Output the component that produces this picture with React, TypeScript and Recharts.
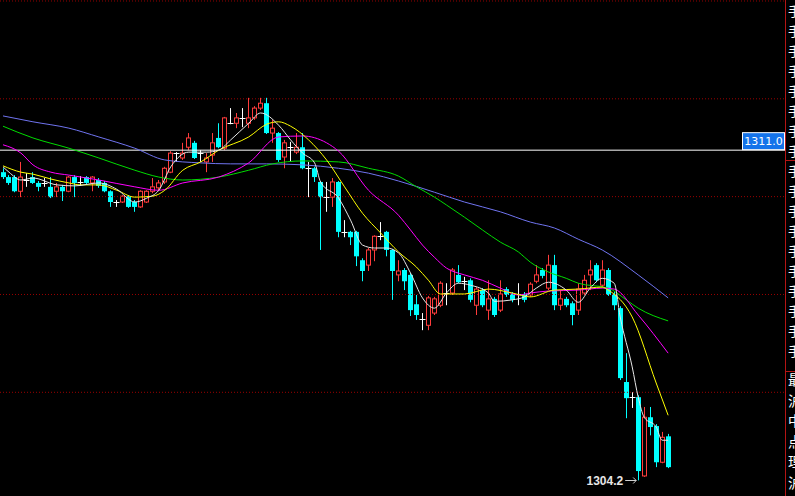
import React from "react";
import { Bar, ComposedChart, Line, ReferenceDot, ReferenceLine, XAxis, YAxis } from "recharts";

// [open, high, low, close], one per bar (oldest first)
const candles: [number, number, number, number][] = [
  [1310.5, 1310.58, 1310.36, 1310.4],
  [1310.4, 1310.44, 1310.24, 1310.28],
  [1310.4, 1310.44, 1310.09, 1310.11],
  [1310.11, 1310.71, 1309.99, 1310.4],
  [1310.34, 1310.48, 1310.2, 1310.34],
  [1310.4, 1310.5, 1310.26, 1310.28],
  [1310.28, 1310.32, 1310.11, 1310.2],
  [1310.28, 1310.38, 1310.2, 1310.28],
  [1310.2, 1310.4, 1309.97, 1309.99],
  [1310.11, 1310.28, 1309.99, 1310.2],
  [1310.2, 1310.24, 1309.91, 1310.11],
  [1310.11, 1310.42, 1310.09, 1310.4],
  [1310.4, 1310.44, 1309.99, 1310.28],
  [1310.3, 1310.42, 1310.22, 1310.3],
  [1310.4, 1310.42, 1310.24, 1310.28],
  [1310.28, 1310.42, 1310.11, 1310.4],
  [1310.34, 1310.38, 1310.18, 1310.22],
  [1310.28, 1310.32, 1310.09, 1310.11],
  [1310.11, 1310.13, 1309.79, 1309.89],
  [1309.89, 1309.93, 1309.79, 1309.89],
  [1309.89, 1310.03, 1309.87, 1310.01],
  [1310.01, 1310.03, 1309.77, 1309.79],
  [1309.89, 1309.93, 1309.69, 1309.79],
  [1309.79, 1310.13, 1309.77, 1310.11],
  [1309.89, 1310.13, 1309.87, 1310.11],
  [1310.11, 1310.38, 1310.07, 1310.2],
  [1310.18, 1310.34, 1310.13, 1310.28],
  [1310.3, 1310.61, 1310.26, 1310.58],
  [1310.5, 1310.93, 1310.48, 1310.89],
  [1310.89, 1310.91, 1310.71, 1310.89],
  [1310.79, 1311.1, 1310.75, 1310.89],
  [1311.01, 1311.3, 1310.95, 1311.2],
  [1311.1, 1311.14, 1310.77, 1310.79],
  [1310.89, 1310.95, 1310.71, 1310.89],
  [1310.71, 1310.89, 1310.5, 1310.79],
  [1310.85, 1311.3, 1310.71, 1311.1],
  [1311.2, 1311.5, 1310.99, 1311.01],
  [1310.99, 1311.63, 1310.95, 1311.61],
  [1311.5, 1311.81, 1311.48, 1311.5],
  [1311.5, 1311.71, 1311.4, 1311.61],
  [1311.61, 1311.81, 1311.42, 1311.61],
  [1311.5, 1312.02, 1311.4, 1311.61],
  [1311.61, 1311.85, 1311.57, 1311.81],
  [1311.81, 1312.02, 1311.77, 1311.91],
  [1311.91, 1312.02, 1311.28, 1311.3],
  [1311.3, 1311.57, 1311.1, 1311.4],
  [1311.3, 1311.32, 1310.71, 1310.75],
  [1310.81, 1311.16, 1310.58, 1311.1],
  [1311.01, 1311.12, 1310.71, 1311.01],
  [1310.91, 1311.3, 1310.87, 1311.01],
  [1311.01, 1311.3, 1310.56, 1310.58],
  [1310.58, 1310.71, 1309.99, 1310.58],
  [1310.58, 1310.61, 1310.3, 1310.4],
  [1310.3, 1310.32, 1308.91, 1309.99],
  [1309.99, 1310.3, 1309.69, 1309.99],
  [1309.99, 1310.38, 1309.79, 1310.3],
  [1310.3, 1310.32, 1309.17, 1309.28],
  [1309.28, 1309.52, 1309.17, 1309.28],
  [1309.28, 1309.3, 1309.01, 1309.17],
  [1309.28, 1309.3, 1308.58, 1308.78],
  [1308.7, 1308.74, 1308.27, 1308.48],
  [1308.6, 1308.95, 1308.48, 1308.91],
  [1308.91, 1309.21, 1308.68, 1309.19],
  [1309.19, 1309.48, 1309.11, 1309.19],
  [1309.28, 1309.3, 1308.78, 1308.91],
  [1308.91, 1308.93, 1307.89, 1308.48],
  [1308.4, 1308.7, 1308.27, 1308.48],
  [1308.5, 1308.54, 1308.09, 1308.27],
  [1308.4, 1308.44, 1307.56, 1307.68],
  [1307.8, 1307.99, 1307.48, 1307.58],
  [1307.5, 1307.62, 1307.27, 1307.5],
  [1307.37, 1307.97, 1307.27, 1307.93],
  [1307.62, 1307.95, 1307.58, 1307.91],
  [1307.78, 1308.27, 1307.74, 1308.23],
  [1308.03, 1308.23, 1307.78, 1308.03],
  [1308.03, 1308.54, 1307.99, 1308.5],
  [1308.4, 1308.6, 1308.23, 1308.25],
  [1308.27, 1308.36, 1308.09, 1308.27],
  [1308.29, 1308.33, 1307.84, 1307.89],
  [1307.78, 1308.15, 1307.58, 1308.11],
  [1308.09, 1308.13, 1307.74, 1307.78],
  [1307.68, 1308.29, 1307.48, 1307.91],
  [1307.91, 1307.95, 1307.54, 1307.58],
  [1307.68, 1308.29, 1307.64, 1308.01],
  [1308.11, 1308.15, 1307.95, 1307.99],
  [1308.01, 1308.05, 1307.84, 1307.89],
  [1308.01, 1308.23, 1307.78, 1308.01],
  [1308.01, 1308.05, 1307.84, 1307.89],
  [1307.99, 1308.25, 1307.95, 1308.21],
  [1308.27, 1308.6, 1308.23, 1308.4],
  [1308.5, 1308.54, 1308.33, 1308.38],
  [1308.13, 1308.81, 1308.09, 1308.6],
  [1308.6, 1308.81, 1307.68, 1307.78],
  [1307.78, 1308.09, 1307.68, 1307.91],
  [1307.91, 1307.95, 1307.74, 1307.78],
  [1307.82, 1307.86, 1307.37, 1307.58],
  [1307.68, 1308.23, 1307.58, 1308.11],
  [1308.03, 1308.4, 1307.99, 1308.29],
  [1308.4, 1308.7, 1308.09, 1308.5],
  [1308.6, 1308.64, 1308.25, 1308.29],
  [1308.19, 1308.7, 1308.15, 1308.5],
  [1308.5, 1308.54, 1307.97, 1307.99],
  [1308.01, 1308.05, 1307.68, 1307.78],
  [1307.72, 1307.76, 1306.25, 1306.29],
  [1306.21, 1306.8, 1305.47, 1305.88],
  [1305.9, 1306.0, 1305.68, 1305.9],
  [1305.9, 1305.94, 1304.2, 1304.39],
  [1304.29, 1305.7, 1304.27, 1305.49],
  [1305.49, 1305.7, 1305.12, 1305.29],
  [1305.31, 1305.35, 1304.47, 1304.57],
  [1304.57, 1305.19, 1304.55, 1305.08],
  [1305.1, 1305.15, 1304.45, 1304.47],
];

// moving averages: [bar index, value]
const ma5: [number, number][] = [
  [0, 1310.61], [1, 1310.5], [3, 1310.34], [5, 1310.38], [9, 1310.24], [12, 1310.22],
  [16, 1310.28], [19, 1310.15], [22, 1309.89], [24, 1309.97], [26, 1310.13], [28, 1310.61],
  [31, 1310.91], [34, 1310.91], [36, 1310.95], [38, 1311.16], [41, 1311.5], [43, 1311.71],
  [46, 1311.46], [48, 1311.16], [50, 1310.89], [52, 1310.69], [53, 1310.3], [56, 1309.97],
  [58, 1309.52], [60, 1309.01], [62, 1308.95], [64, 1308.95], [66, 1308.85], [68, 1308.44],
  [70, 1307.93], [72, 1307.72], [74, 1308.03], [76, 1308.23], [78, 1308.19], [81, 1308.03],
  [82, 1307.86], [85, 1307.89], [87, 1307.95], [89, 1308.13], [91, 1308.25], [94, 1308.09],
  [96, 1307.84], [98, 1308.13], [100, 1308.33], [102, 1308.23], [103, 1307.54], [105, 1306.52],
  [106, 1305.9], [107, 1305.49], [109, 1305.29], [110, 1305.02], [111, 1305.02],
];
const ma10: [number, number][] = [
  [0, 1310.63], [3, 1310.5], [5, 1310.46], [8, 1310.36], [11, 1310.28], [13, 1310.24],
  [16, 1310.24], [19, 1310.13], [22, 1309.99], [25, 1310.01], [27, 1310.13], [30, 1310.54],
  [33, 1310.71], [36, 1310.95], [41, 1311.22], [44, 1311.48], [46, 1311.53], [48, 1311.44],
  [51, 1311.16], [54, 1310.75], [57, 1310.2], [60, 1309.66], [63, 1309.26], [66, 1308.87],
  [69, 1308.56], [71, 1308.29], [73, 1308.01], [77, 1308.01], [81, 1308.11], [85, 1308.03],
  [88, 1307.95], [92, 1308.09], [96, 1308.11], [100, 1308.15], [101, 1308.09], [105, 1307.54],
  [109, 1306.19], [111, 1305.53],
];
const ma20: [number, number][] = [
  [0, 1311.06], [3, 1310.89], [5, 1310.65], [8, 1310.5], [11, 1310.44], [16, 1310.34],
  [22, 1310.2], [26, 1310.13], [30, 1310.28], [36, 1310.4], [41, 1310.69], [46, 1311.22],
  [50, 1311.24], [54, 1311.1], [56, 1310.93], [61, 1310.13], [66, 1309.62], [68, 1309.32],
  [70, 1309.01], [72, 1308.76], [74, 1308.54], [77, 1308.4], [80, 1308.29], [83, 1308.13],
  [86, 1307.99], [88, 1308.03], [91, 1308.07], [96, 1308.09], [100, 1308.13], [102, 1308.11],
  [106, 1307.58], [111, 1306.8],
];
const ma30: [number, number][] = [
  [0, 1311.44], [5, 1311.2], [11, 1310.99], [16, 1310.79], [22, 1310.54], [26, 1310.4],
  [30, 1310.34], [36, 1310.4], [41, 1310.54], [45, 1310.67], [50, 1310.73], [56, 1310.71],
  [61, 1310.58], [66, 1310.42], [69, 1310.2], [72, 1309.99], [74, 1309.83], [77, 1309.58],
  [80, 1309.32], [83, 1309.07], [86, 1308.87], [88, 1308.66], [91, 1308.46], [94, 1308.33],
  [96, 1308.23], [101, 1308.13], [104, 1307.89], [106, 1307.72], [111, 1307.46],
];
const ma60: [number, number][] = [
  [0, 1311.65], [5, 1311.53], [11, 1311.4], [16, 1311.22], [22, 1310.99], [27, 1310.75],
  [33, 1310.69], [38, 1310.67], [44, 1310.67], [50, 1310.65], [56, 1310.58], [61, 1310.48],
  [66, 1310.32], [72, 1310.09], [77, 1309.89], [83, 1309.69], [88, 1309.48], [92, 1309.36],
  [96, 1309.13], [100, 1308.91], [106, 1308.4], [111, 1307.93],
];

const gridLevels = [1314, 1312, 1310, 1308, 1306];
const lastPrice = 1310.95;
const sideLabels = ["最", "沪", "中", "点", "理", "沪"];

const SLOTS = 131; // room on the right after the last bar

const rows: any[] = Array.from({ length: SLOTS }, (_, i) => {
  const c = candles[i];
  return c ? { i, open: c[0], high: c[1], low: c[2], close: c[3] } : { i };
});
const addLine = (key: string, pts: [number, number][]) => pts.forEach(([i, v]) => (rows[i][key] = v));
addLine("ma5", ma5);
addLine("ma10", ma10);
addLine("ma20", ma20);
addLine("ma30", ma30);
addLine("ma60", ma60);

let lowIdx = 0;
candles.forEach((c, i) => {
  if (c[2] < candles[lowIdx][2]) lowIdx = i;
});

function Candle(props: any) {
  const { x, y, width, height, payload } = props;
  if (payload.open == null) return null;
  const { open, high, low, close } = payload;
  const top = Math.min(y, y + height);
  const bot = Math.max(y, y + height);
  const py = (p: number) => top + ((high - p) / (high - low)) * (bot - top);
  const cx = Math.round(x + width / 2) + 0.5;
  const bTop = py(Math.max(open, close));
  const bBot = py(Math.min(open, close));
  if (open === close) {
    return (
      <g stroke="#ffffff">
        <line x1={cx} x2={cx} y1={top} y2={bot} />
        <line x1={cx - 3} x2={cx + 3} y1={Math.round(bTop) + 0.5} y2={Math.round(bTop) + 0.5} />
      </g>
    );
  }
  if (close > open) {
    return (
      <g stroke="#ff3c3c" fill="none">
        <line x1={cx} x2={cx} y1={top} y2={bTop} />
        <line x1={cx} x2={cx} y1={bBot} y2={bot} />
        <rect x={cx - 2} y={bTop} width={4} height={Math.max(bBot - bTop, 1)} />
      </g>
    );
  }
  return (
    <g>
      <line x1={cx} x2={cx} y1={top} y2={bot} stroke="#00ffff" />
      <rect x={cx - 2.5} y={bTop} width={5} height={Math.max(bBot - bTop, 1)} fill="#00ffff" />
    </g>
  );
}

function PriceTag(props: any) {
  const { x, y, width } = props.viewBox;
  const right = x + width;
  return (
    <g>
      <rect x={right - 42.5} y={y - 17.5} width={42} height={17} fill="#1473ea" stroke="#ffffff" />
      <text x={right - 21.5} y={y - 5} textAnchor="middle" fill="#ffffff" fontSize={11} fontFamily="DejaVu Sans">
        {lastPrice.toFixed(1)}
      </text>
    </g>
  );
}

function LowMark(props: any) {
  const { cx, cy } = props;
  const y = Math.round(cy) + 0.5;
  return (
    <g>
      <text x={cx - 15} y={y + 4} textAnchor="end" fill="#e6e6e6" fontSize={12} fontWeight="bold" fontFamily="Liberation Sans, Arial">
        {candles[lowIdx][2].toFixed(1)}
      </text>
      <line x1={cx - 13} x2={cx - 2} y1={y} y2={y} stroke="#d0d0d0" />
      <path d={`M${cx - 5} ${y - 3} L${cx - 2} ${y} L${cx - 5} ${y + 3}`} stroke="#d0d0d0" fill="none" />
    </g>
  );
}

const lineProps = { dot: false, activeDot: false, connectNulls: true, type: "monotone" as const, isAnimationActive: false };

export default function App() {
  return (
    <div style={{ position: "absolute", left: 0, top: 0, width: 795, height: 496, background: "#000", overflow: "hidden" }}>
      <ComposedChart width={795} height={496} data={rows} margin={{ top: 0, right: 10, bottom: 0, left: 0 }}>
        <XAxis dataKey="i" type="category" hide />
        <YAxis hide domain={[1303.88, 1314.02]} allowDataOverflow />
        {gridLevels.map((g) => (
          <ReferenceLine key={g} y={g} stroke="#9a0000" strokeDasharray="1 2" />
        ))}
        <ReferenceLine y={lastPrice} stroke="#ffffff" label={<PriceTag />} />
        <Line dataKey="ma60" stroke="#7074f0" {...lineProps} />
        <Line dataKey="ma30" stroke="#00dc00" {...lineProps} />
        <Line dataKey="ma20" stroke="#ff00ff" {...lineProps} />
        <Line dataKey="ma10" stroke="#ffff00" {...lineProps} />
        <Bar dataKey={(d: any) => (d.open == null ? null : [d.low, d.high])} barSize={5} shape={<Candle />} isAnimationActive={false} />
        <Line dataKey="ma5" stroke="#e8e8e8" {...lineProps} />
        <ReferenceDot x={lowIdx} y={candles[lowIdx][2]} shape={<LowMark />} />
      </ComposedChart>
      <svg width={795} height={496} style={{ position: "absolute", left: 0, top: 0, pointerEvents: "none" }}>
        <line x1={785.5} x2={785.5} y1={0} y2={496} stroke="#b41414" />
        <line x1={785} x2={795} y1={160.5} y2={160.5} stroke="#b41414" />
        <line x1={785} x2={795} y1={371.5} y2={371.5} stroke="#b41414" />
        {Array.from({ length: 18 }, (_, k) => (
          <text key={k} x={788} y={16 + k * 20} fill="#ffffff" fontSize={13} fontFamily="Noto Sans CJK SC">
            手
          </text>
        ))}
        {sideLabels.map((s, k) => (
          <text key={"s" + k} x={788} y={385 + k * 20.6} fill="#ffffff" fontSize={14} fontFamily="Noto Sans CJK SC">
            {s}
          </text>
        ))}
      </svg>
    </div>
  );
}
